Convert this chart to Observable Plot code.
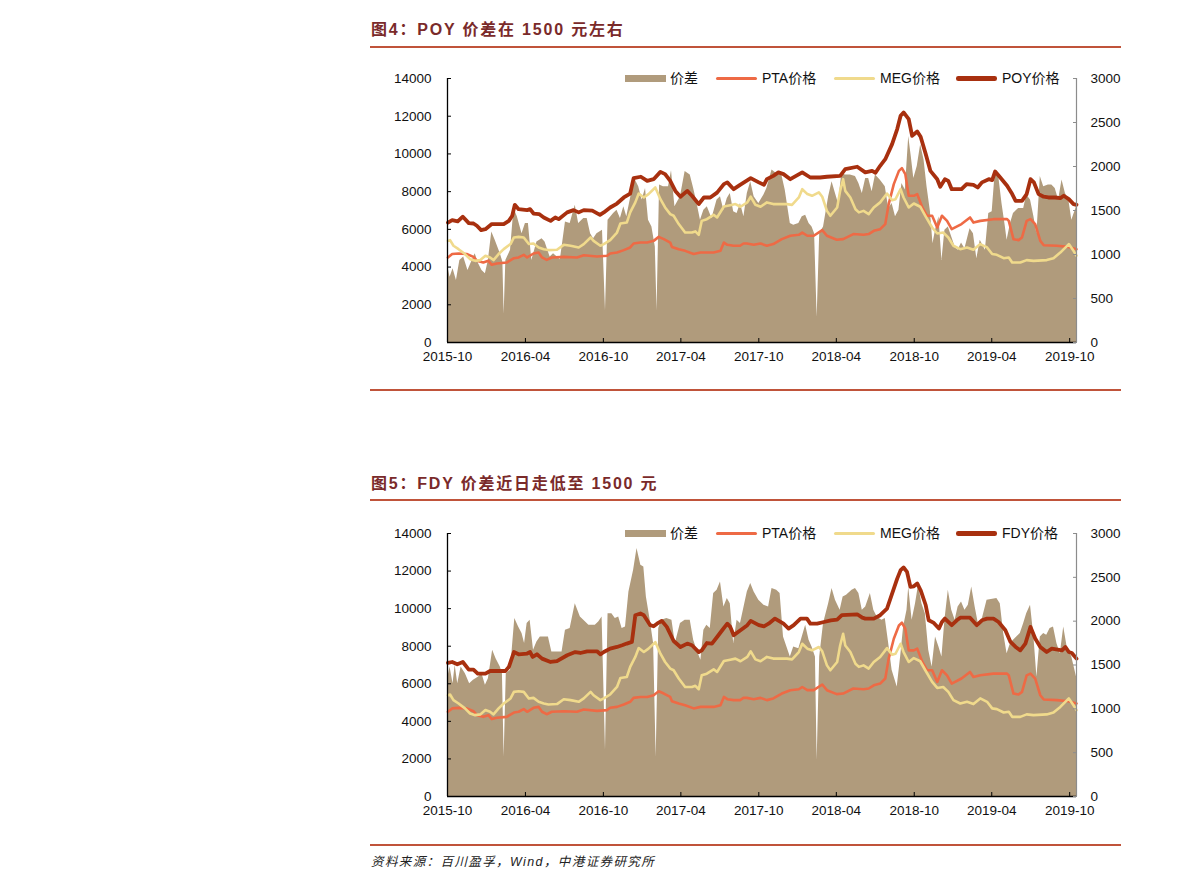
<!DOCTYPE html>
<html><head><meta charset="utf-8">
<script src="https://cdn.jsdelivr.net/npm/d3@7"></script>
<script src="https://cdn.jsdelivr.net/npm/@observablehq/plot@0.6"></script>
<style>
body{margin:0;background:#fff;width:1191px;height:891px;position:relative;overflow:hidden;font-family:"Liberation Sans","Noto Sans CJK SC",sans-serif;}
.title{position:absolute;left:371px;height:20px;line-height:20px;font-weight:bold;font-size:16px;color:#7a2a2a;letter-spacing:1.8px;white-space:nowrap;font-family:"Liberation Sans","Noto Sans CJK SC",sans-serif;}
.rule{position:absolute;left:370px;width:751px;background:#c0533a;}
.chart{position:absolute;left:0;}
.lg{position:absolute;font-size:14px;line-height:16px;height:16px;white-space:nowrap;color:#111;}
.sw{position:absolute;}
.src{position:absolute;left:371px;top:853px;font-size:12.5px;line-height:18px;font-style:italic;color:#222;letter-spacing:1.4px;}
</style></head>
<body>
<div class="title" style="top:20px">图4：POY 价差在 1500 元左右</div>
<div class="rule" style="top:46px;height:2px"></div>
<div id="c1" class="chart" style="top:50px"></div>
<div class="rule" style="top:389px;height:1.5px"></div>
<div class="title" style="top:474px">图5：FDY 价差近日走低至 1500 元</div>
<div class="rule" style="top:499px;height:2px"></div>
<div id="c2" class="chart" style="top:505px"></div>
<div class="rule" style="top:844px;height:1.5px"></div>
<div class="src">资料来源：百川盈孚，Wind，中港证券研究所</div>
<script>
// ---------- data ----------
const xStart = "2015-10-01", xEnd = "2019-10-17";
const xTicks = ["2015-10","2016-04","2016-10","2017-04","2017-10","2018-04","2018-10","2019-04","2019-10"];
const leftTicks = [0,2000,4000,6000,8000,10000,12000,14000];
const rightTicks = [0,500,1000,1500,2000,2500,3000];
const legend1 = ["价差","PTA价格","MEG价格","POY价格"];
const legend2 = ["价差","PTA价格","MEG价格","FDY价格"];

const pta = [["2015-10-02",4510],["2015-10-12",4690],["2015-10-27",4720],["2015-11-15",4690],["2015-12-01",4540],["2015-12-09",4330],["2015-12-24",4240],["2016-01-05",4330],["2016-01-13",4120],["2016-01-25",4190],["2016-02-17",4240],["2016-03-05",4470],["2016-03-16",4510],["2016-03-28",4650],["2016-04-05",4510],["2016-04-20",4720],["2016-05-02",4770],["2016-05-10",4510],["2016-05-21",4380],["2016-06-02",4510],["2016-06-30",4540],["2016-07-31",4510],["2016-08-16",4630],["2016-09-16",4560],["2016-10-10",4600],["2016-10-17",4720],["2016-11-02",4770],["2016-11-18",4900],["2016-12-03",5040],["2016-12-11",5250],["2016-12-27",5300],["2017-01-12",5300],["2017-01-27",5390],["2017-02-08",5600],["2017-02-20",5480],["2017-03-07",5300],["2017-03-11",5070],["2017-03-27",4950],["2017-04-11",4860],["2017-05-01",4690],["2017-05-17",4770],["2017-06-17",4770],["2017-07-03",4860],["2017-07-11",5300],["2017-07-19",5180],["2017-08-03",5130],["2017-08-18",5130],["2017-08-26",5250],["2017-09-03",5250],["2017-09-19",5180],["2017-10-05",5250],["2017-10-20",5130],["2017-11-04",5220],["2017-11-24",5480],["2017-12-14",5660],["2018-01-03",5710],["2018-01-11",5830],["2018-01-23",5660],["2018-02-07",5660],["2018-02-27",5960],["2018-03-10",5660],["2018-04-02",5450],["2018-04-17",5480],["2018-05-11",5750],["2018-06-04",5710],["2018-06-16",5750],["2018-06-28",5920],["2018-07-13",6010],["2018-07-25",6280],["2018-08-02",7340],["2018-08-14",8400],["2018-08-26",9100],["2018-09-02",9250],["2018-09-10",8930],["2018-09-18",7780],["2018-09-30",7780],["2018-10-08",7870],["2018-10-20",7160],["2018-10-31",6720],["2018-11-12",6720],["2018-11-24",6100],["2018-12-05",6720],["2018-12-17",6450],["2018-12-28",6010],["2019-01-20",6280],["2019-02-09",6630],["2019-02-17",6360],["2019-03-05",6450],["2019-04-05",6540],["2019-05-07",6540],["2019-05-11",6450],["2019-05-22",5480],["2019-06-03",5430],["2019-06-11",5570],["2019-06-22",6450],["2019-07-01",6540],["2019-07-12",6280],["2019-07-24",5390],["2019-08-01",5160],["2019-09-01",5130],["2019-09-28",5070],["2019-10-17",4950]];

const meg = [["2015-10-02",5390],["2015-10-07",5430],["2015-10-15",5130],["2015-10-27",4950],["2015-11-11",4690],["2015-11-23",4420],["2015-12-05",4330],["2015-12-17",4370],["2015-12-29",4600],["2016-01-09",4510],["2016-01-17",4370],["2016-01-29",4690],["2016-02-10",4950],["2016-02-26",5220],["2016-03-05",5570],["2016-03-16",5600],["2016-03-28",5570],["2016-04-09",5220],["2016-04-20",5250],["2016-05-02",5040],["2016-05-14",4950],["2016-05-25",4900],["2016-06-14",4920],["2016-06-30",5180],["2016-07-16",5130],["2016-08-04",5040],["2016-08-16",5220],["2016-09-01",5570],["2016-09-08",5390],["2016-09-24",5130],["2016-10-02",5220],["2016-10-17",5430],["2016-11-02",5830],["2016-11-10",6310],["2016-11-25",6360],["2016-12-03",6900],["2016-12-15",7430],["2016-12-23",7900],["2017-01-04",7690],["2017-01-15",7870],["2017-01-31",8220],["2017-02-12",7600],["2017-02-23",7160],["2017-03-07",6810],["2017-03-15",6720],["2017-03-27",6280],["2017-04-11",5830],["2017-04-27",5830],["2017-05-05",5890],["2017-05-13",5710],["2017-05-20",6450],["2017-06-01",6540],["2017-06-17",6770],["2017-06-25",6630],["2017-07-11",7210],["2017-07-26",7280],["2017-08-07",7340],["2017-08-19",7200],["2017-09-04",7430],["2017-09-12",7730],["2017-09-23",7300],["2017-10-05",7200],["2017-10-20",7430],["2017-11-04",7340],["2017-12-06",7340],["2017-12-18",7300],["2018-01-03",7690],["2018-01-11",8130],["2018-01-23",7870],["2018-02-03",7780],["2018-02-19",7960],["2018-02-27",7730],["2018-03-10",6980],["2018-03-18",6720],["2018-04-03",7160],["2018-04-10",8040],["2018-04-17",8660],["2018-04-22",8040],["2018-05-04",7690],["2018-05-16",7070],["2018-05-24",6900],["2018-06-04",6980],["2018-06-16",6810],["2018-06-28",7160],["2018-07-13",7430],["2018-07-29",7900],["2018-08-10",7550],["2018-08-18",7600],["2018-08-30",8130],["2018-09-06",7690],["2018-09-18",7160],["2018-09-30",7370],["2018-10-15",7200],["2018-10-27",6720],["2018-11-12",6100],["2018-11-24",5780],["2018-12-08",5830],["2018-12-20",5570],["2019-01-01",5130],["2019-01-17",4950],["2019-02-02",5040],["2019-02-17",4920],["2019-03-05",5220],["2019-03-21",5040],["2019-04-02",4690],["2019-04-13",4650],["2019-04-29",4470],["2019-05-11",4510],["2019-05-19",4240],["2019-06-07",4240],["2019-06-22",4370],["2019-07-08",4330],["2019-08-08",4370],["2019-08-24",4470],["2019-09-09",4770],["2019-09-29",5220],["2019-10-10",4860],["2019-10-17",4600]];

const poy = [["2015-10-02",6360],["2015-10-12",6490],["2015-10-25",6420],["2015-11-06",6670],["2015-11-20",6330],["2015-12-01",6310],["2015-12-09",6190],["2015-12-19",5960],["2015-12-29",6010],["2016-01-13",6280],["2016-02-10",6280],["2016-02-22",6450],["2016-03-01",6720],["2016-03-07",7300],["2016-03-16",7070],["2016-04-05",7020],["2016-04-12",7070],["2016-04-20",6840],["2016-05-03",6810],["2016-05-14",6630],["2016-05-30",6450],["2016-06-10",6630],["2016-06-18",6540],["2016-07-08",6900],["2016-07-23",7020],["2016-08-04",6900],["2016-08-16",7020],["2016-09-05",6990],["2016-09-23",6770],["2016-10-02",6900],["2016-10-17",7160],["2016-11-02",7370],["2016-11-18",7690],["2016-12-03",7900],["2016-12-11",8720],["2016-12-28",8790],["2017-01-12",8570],["2017-01-27",8660],["2017-02-12",9050],["2017-02-23",8930],["2017-03-07",8570],["2017-03-19",8040],["2017-03-31",7730],["2017-04-16",8040],["2017-04-27",7780],["2017-05-13",7340],["2017-05-25",7690],["2017-06-09",7690],["2017-06-25",7950],["2017-07-11",8400],["2017-07-19",8490],["2017-08-03",8130],["2017-08-18",8360],["2017-09-12",8720],["2017-10-01",8490],["2017-10-13",8360],["2017-10-20",8660],["2017-11-04",8840],["2017-11-16",9020],["2017-11-28",8930],["2017-12-14",8660],["2018-01-11",9020],["2018-01-30",8750],["2018-02-22",8750],["2018-03-10",8790],["2018-04-10",8840],["2018-04-22",9190],["2018-05-20",9320],["2018-06-08",9020],["2018-06-24",9100],["2018-07-02",9000],["2018-07-13",9370],["2018-07-25",9720],["2018-08-10",10520],["2018-08-22",11320],["2018-08-30",12020],["2018-09-06",12200],["2018-09-18",11850],["2018-09-26",10960],["2018-10-08",11190],["2018-10-16",10910],["2018-10-28",9990],["2018-11-08",9100],["2018-11-24",8660],["2018-12-01",8260],["2018-12-12",8660],["2018-12-20",8570],["2018-12-28",8130],["2019-01-09",8130],["2019-01-20",8130],["2019-02-01",8400],["2019-02-17",8360],["2019-02-27",8220],["2019-03-09",8490],["2019-03-25",8660],["2019-04-02",8610],["2019-04-09",9070],["2019-04-21",8750],["2019-05-07",8310],["2019-05-19",7870],["2019-05-27",7510],["2019-06-11",7510],["2019-06-22",7870],["2019-07-01",8660],["2019-07-09",8490],["2019-07-20",7870],["2019-08-01",7730],["2019-08-12",7690],["2019-08-28",7690],["2019-09-09",7660],["2019-09-17",7780],["2019-09-29",7600],["2019-10-10",7340],["2019-10-17",7300]];

const fdy = [["2015-10-02",7110],["2015-10-12",7160],["2015-10-24",7040],["2015-11-06",7160],["2015-11-20",6750],["2015-12-01",6750],["2015-12-11",6540],["2015-12-29",6540],["2016-01-09",6680],["2016-02-14",6680],["2016-02-22",6890],["2016-03-05",7690],["2016-03-16",7570],["2016-04-05",7610],["2016-04-12",7690],["2016-04-18",7430],["2016-04-28",7570],["2016-05-10",7340],["2016-05-30",7160],["2016-06-14",7210],["2016-07-08",7520],["2016-07-27",7690],["2016-08-08",7640],["2016-08-24",7730],["2016-09-16",7730],["2016-09-24",7570],["2016-10-02",7690],["2016-10-17",7870],["2016-11-02",7960],["2016-11-14",8050],["2016-11-25",8140],["2016-12-07",8230],["2016-12-15",9650],["2016-12-27",9740],["2017-01-04",9650],["2017-01-19",9120],["2017-01-27",9060],["2017-02-04",9200],["2017-02-15",9350],["2017-02-27",9030],["2017-03-15",8280],["2017-03-31",7960],["2017-04-16",8140],["2017-04-27",8050],["2017-05-13",7690],["2017-05-20",7780],["2017-06-01",8170],["2017-06-13",8140],["2017-06-25",8490],["2017-07-07",8850],["2017-07-19",9200],["2017-07-26",9030],["2017-08-03",8580],["2017-08-19",8850],["2017-09-04",9120],["2017-09-12",9350],["2017-10-01",9120],["2017-10-13",9060],["2017-10-24",9200],["2017-11-08",9470],["2017-11-28",9200],["2017-12-10",8940],["2017-12-22",9120],["2018-01-07",9470],["2018-01-22",9470],["2018-01-30",9200],["2018-02-15",9200],["2018-03-03",9290],["2018-03-19",9380],["2018-04-03",9420],["2018-04-14",9650],["2018-05-20",9700],["2018-06-01",9520],["2018-06-08",9470],["2018-06-28",9470],["2018-07-13",9650],["2018-07-29",10000],["2018-08-10",10800],["2018-08-22",11600],["2018-08-30",12050],["2018-09-06",12190],["2018-09-14",11960],["2018-09-22",11160],["2018-09-30",11190],["2018-10-08",11340],["2018-10-16",10980],["2018-10-28",10180],["2018-11-04",9380],["2018-11-16",9240],["2018-11-28",8940],["2018-12-05",9290],["2018-12-12",9470],["2018-12-28",9120],["2019-01-09",9380],["2019-01-17",9520],["2019-02-09",9520],["2019-02-25",9120],["2019-03-09",9380],["2019-03-21",9470],["2019-04-05",9470],["2019-04-17",9290],["2019-05-03",8850],["2019-05-15",8230],["2019-05-27",7960],["2019-06-07",7780],["2019-06-19",8140],["2019-07-01",9030],["2019-07-12",8410],["2019-07-24",7960],["2019-08-08",7690],["2019-08-20",7870],["2019-09-13",7780],["2019-09-21",7960],["2019-09-29",7690],["2019-10-06",7640],["2019-10-17",7340]];

const spreadPOY = [["2015-10-02",857],["2015-10-07",742],["2015-10-14",838],["2015-10-22",704],["2015-10-30",933],["2015-11-08",971],["2015-11-18",818],["2015-11-28",933],["2015-12-05",1009],["2015-12-13",895],["2015-12-21",818],["2015-12-29",780],["2016-01-05",933],["2016-01-13",1256],["2016-01-21",1161],["2016-02-02",1009],["2016-02-08",914],["2016-02-11",324],["2016-02-15",933],["2016-02-26",1047],["2016-03-05",1523],["2016-03-13",1428],["2016-03-24",1237],["2016-04-01",1351],["2016-04-08",1351],["2016-04-16",933],["2016-04-28",1142],["2016-05-10",1180],["2016-05-17",1142],["2016-05-29",971],["2016-06-06",1009],["2016-06-22",940],["2016-07-04",1370],["2016-07-15",1351],["2016-07-27",1561],["2016-08-04",1351],["2016-08-16",1408],["2016-08-24",1408],["2016-09-01",1237],["2016-09-08",1180],["2016-09-16",1237],["2016-09-29",1275],["2016-10-06",362],["2016-10-12",1390],["2016-10-25",1466],["2016-11-02",1504],["2016-11-10",1408],["2016-11-18",1542],["2016-11-25",1428],["2016-12-07",1713],["2016-12-15",1846],["2016-12-23",1770],["2016-12-31",1618],["2017-01-08",1751],["2017-01-15",1390],["2017-01-23",1313],["2017-01-31",1085],["2017-02-04",362],["2017-02-10",1789],["2017-02-19",1770],["2017-03-03",1770],["2017-03-10",1953],["2017-03-18",1542],["2017-03-31",1656],["2017-04-11",1942],["2017-04-23",1903],["2017-05-01",1751],["2017-05-09",1580],["2017-05-17",1390],["2017-05-25",1504],["2017-06-02",1542],["2017-06-13",1408],["2017-06-25",1618],["2017-07-03",1656],["2017-07-11",1504],["2017-07-19",1637],["2017-07-26",1694],["2017-08-03",1485],["2017-08-11",1466],["2017-08-19",1580],["2017-08-27",1428],["2017-09-04",1694],["2017-09-12",1827],["2017-09-20",1656],["2017-10-01",1580],["2017-10-13",1675],["2017-10-20",1751],["2017-11-01",1960],["2017-11-16",1903],["2017-11-24",1903],["2017-12-02",1732],["2017-12-14",1351],["2017-12-22",1332],["2018-01-03",1351],["2018-01-11",1428],["2018-01-19",1447],["2018-01-27",1351],["2018-02-03",1313],["2018-02-09",1237],["2018-02-15",286],["2018-02-21",1237],["2018-03-02",1313],["2018-03-14",1656],["2018-03-22",1827],["2018-03-30",1694],["2018-04-06",1580],["2018-04-14",1922],["2018-04-22",1903],["2018-05-04",1903],["2018-05-16",1885],["2018-05-24",1808],["2018-06-01",1694],["2018-06-09",1865],["2018-06-16",1865],["2018-06-24",1713],["2018-07-02",1903],["2018-07-13",1846],["2018-07-25",1770],["2018-08-02",1523],["2018-08-10",1580],["2018-08-18",1428],["2018-08-26",1504],["2018-09-02",1808],["2018-09-10",1732],["2018-09-18",2341],["2018-09-24",2113],["2018-09-30",1865],["2018-10-08",1999],["2018-10-16",2246],["2018-10-24",2075],["2018-10-31",1770],["2018-11-08",1485],["2018-11-14",1123],["2018-11-20",1275],["2018-11-28",1428],["2018-12-05",933],["2018-12-12",1275],["2018-12-20",1313],["2018-12-28",1199],["2019-01-05",1085],["2019-01-12",1047],["2019-01-20",1131],["2019-01-28",1066],["2019-02-09",1294],["2019-02-17",1237],["2019-02-25",952],["2019-03-05",1161],["2019-03-17",1047],["2019-03-25",1466],["2019-04-02",1485],["2019-04-09",1922],["2019-04-17",1903],["2019-04-25",1580],["2019-05-03",1313],["2019-05-07",1161],["2019-05-15",1351],["2019-05-22",1466],["2019-06-03",1523],["2019-06-15",1523],["2019-06-22",1675],["2019-07-01",1618],["2019-07-09",1428],["2019-07-16",1237],["2019-07-24",1885],["2019-08-01",1770],["2019-08-12",1789],["2019-08-20",1789],["2019-08-28",1751],["2019-09-05",1618],["2019-09-13",1846],["2019-09-21",1694],["2019-09-29",1618],["2019-10-06",1390],["2019-10-17",1542]];

const spreadFDY = [["2015-10-02",1363],["2015-10-07",1477],["2015-10-14",1287],["2015-10-19",1496],["2015-10-25",1287],["2015-11-02",1477],["2015-11-12",1401],["2015-11-22",1287],["2015-12-01",1325],["2015-12-13",1363],["2015-12-21",1401],["2015-12-29",1268],["2016-01-05",1344],["2016-01-15",1667],["2016-01-23",1572],["2016-02-02",1477],["2016-02-07",1401],["2016-02-11",449],["2016-02-16",1401],["2016-02-26",1439],["2016-03-07",2029],["2016-03-16",1934],["2016-03-24",1858],["2016-03-30",1744],["2016-04-05",1972],["2016-04-12",2010],["2016-04-20",1667],["2016-04-28",1763],["2016-05-06",1820],["2016-05-25",1820],["2016-06-02",1648],["2016-06-26",1648],["2016-07-04",1896],["2016-07-15",1915],["2016-07-27",2200],["2016-08-08",2048],["2016-08-16",2010],["2016-08-28",1953],["2016-09-12",1953],["2016-09-20",1991],["2016-09-28",2048],["2016-10-06",525],["2016-10-12",2086],["2016-10-21",2086],["2016-10-29",2029],["2016-11-06",2048],["2016-11-14",1915],["2016-11-22",1934],["2016-11-30",2334],["2016-12-11",2581],["2016-12-19",2829],["2016-12-28",2638],["2017-01-04",2619],["2017-01-10",2277],["2017-01-19",2010],["2017-01-27",1744],["2017-02-02",449],["2017-02-08",1915],["2017-02-15",2010],["2017-02-27",2029],["2017-03-11",2010],["2017-03-19",1744],["2017-03-31",1972],["2017-04-11",2010],["2017-04-23",2010],["2017-05-01",1782],["2017-05-09",1667],["2017-05-18",1553],["2017-05-25",1896],["2017-06-01",1953],["2017-06-09",1915],["2017-06-17",2315],["2017-06-25",2353],["2017-07-03",2448],["2017-07-11",2162],["2017-07-19",2258],["2017-07-26",2200],["2017-08-03",1744],["2017-08-11",2010],["2017-08-19",1972],["2017-09-04",2334],["2017-09-12",2429],["2017-09-20",2334],["2017-10-01",2239],["2017-10-13",2181],["2017-10-24",2162],["2017-11-01",2372],["2017-11-12",2353],["2017-11-20",2315],["2017-11-28",1820],["2017-12-06",1706],["2017-12-14",1591],["2017-12-22",1706],["2018-01-03",1686],["2018-01-11",1820],["2018-01-19",1953],["2018-01-27",1782],["2018-02-03",1706],["2018-02-11",1591],["2018-02-15",411],["2018-02-21",1591],["2018-03-02",1972],["2018-03-14",2200],["2018-03-22",2372],["2018-03-30",2239],["2018-04-10",2124],["2018-04-17",2277],["2018-04-25",2296],["2018-05-08",2353],["2018-05-16",2372],["2018-05-24",2315],["2018-06-01",2124],["2018-06-09",2162],["2018-06-20",2315],["2018-06-28",2124],["2018-07-06",2048],["2018-07-17",2010],["2018-07-25",2029],["2018-08-02",1744],["2018-08-10",1439],["2018-08-22",1249],["2018-08-30",1591],["2018-09-06",1934],["2018-09-14",2124],["2018-09-18",2391],["2018-09-26",2010],["2018-10-04",2200],["2018-10-11",2410],["2018-10-19",2200],["2018-10-27",2086],["2018-11-04",1667],["2018-11-12",1477],["2018-11-20",1820],["2018-11-28",1706],["2018-12-05",1591],["2018-12-12",2010],["2018-12-20",2353],["2018-12-28",2124],["2019-01-05",2010],["2019-01-12",2162],["2019-01-20",2220],["2019-01-28",2124],["2019-02-05",2181],["2019-02-13",2391],["2019-02-21",2162],["2019-03-02",1934],["2019-03-09",2010],["2019-03-21",2239],["2019-04-13",2258],["2019-04-21",2200],["2019-04-29",1858],["2019-05-07",1629],["2019-05-15",1744],["2019-05-22",1782],["2019-06-07",1858],["2019-06-15",1972],["2019-06-22",2086],["2019-07-01",2181],["2019-07-09",1820],["2019-07-16",1363],["2019-07-24",1820],["2019-08-01",1858],["2019-08-08",1839],["2019-08-16",1915],["2019-08-24",1934],["2019-09-01",1744],["2019-09-09",1629],["2019-09-17",1934],["2019-09-25",1706],["2019-10-06",1591],["2019-10-17",1363]];

// ---------- styling ----------
const C = {area:"#b09b7c", pta:"#ee6a45", meg:"#f0da8c", yarn:"#a8300f"};
const k = 14000 / 3000;   // right-axis value -> left-axis units
const parse = d3.utcParse("%Y-%m-%d");
const fmtMonth = d3.utcFormat("%Y-%m");

function draw(el, spread, yarn, top, marginBottom, legendLabels) {
  const xs = d => parse(d[0]);
  const chart = Plot.plot({
    width: 1191, height: 320,
    marginLeft: 447, marginRight: 115, marginTop: top, marginBottom: marginBottom,
    style: {fontFamily: "Liberation Sans, Arial, sans-serif", fontSize: "13.5px", color: "#111", background: "transparent"},
    x: {type: "utc", domain: [parse(xStart), parse(xEnd)]},
    y: {domain: [0, 14000]},
    marks: [
      Plot.areaY(spread, {x: xs, y: d => d[1] * k, fill: C.area, curve: "linear"}),
      Plot.lineY(pta, {x: xs, y: d => d[1], stroke: C.pta, strokeWidth: 2.6, curve: "linear"}),
      Plot.lineY(meg, {x: xs, y: d => d[1], stroke: C.meg, strokeWidth: 2.6, curve: "linear"}),
      Plot.lineY(yarn, {x: xs, y: d => d[1], stroke: C.yarn, strokeWidth: 3.8, curve: "linear"}),
      Plot.ruleX([parse(xEnd)], {stroke: "#8c8c8c", strokeWidth: 1.2}),
      Plot.ruleX([parse(xStart)], {stroke: "#000", strokeWidth: 1.3}),
      Plot.ruleY([0], {stroke: "#000", strokeWidth: 1.3}),
      Plot.axisY(leftTicks, {anchor: "left", tickSize: -4, tickPadding: 20, stroke: "#000", fill: "#111", tickFormat: d => String(d)}),
      Plot.axisY(rightTicks.map(v => v * k), {anchor: "right", tickSize: -4, tickPadding: 18, stroke: "#8c8c8c", fill: "#111", tickFormat: d => String(Math.round(d / k))}),
      Plot.axisX(xTicks.map(t => parse(t + "-01")), {anchor: "bottom", tickSize: -4, tickPadding: 13, stroke: "#000", fill: "#111", tickFormat: fmtMonth})
    ]
  });
  el.appendChild(chart);

  // legend (HTML, placed over the chart's top strip)
  const lgLeft = [[625, 670], [716, 762], [834, 880], [956, 1002]];
  const kinds = [["rect", C.area, 7], ["line", C.pta, 3], ["line", C.meg, 3], ["line", C.yarn, 4.5]];
  legendLabels.forEach((lab, i) => {
    const [sx, tx] = lgLeft[i];
    const [kind, col, h] = kinds[i];
    const sw = document.createElement("div");
    sw.className = "sw";
    sw.style.left = sx + "px";
    sw.style.width = "41px";
    sw.style.height = h + "px";
    sw.style.top = (top - h / 2 + 0.5) + "px";
    sw.style.background = col;
    if (kind === "line") sw.style.borderRadius = (h / 2) + "px";
    el.appendChild(sw);
    const t = document.createElement("div");
    t.className = "lg";
    t.style.left = tx + "px";
    t.style.top = (top - 8) + "px";
    t.textContent = lab;
    el.appendChild(t);
  });
}
draw(document.getElementById("c1"), spreadPOY, poy, 28, 28, legend1);
draw(document.getElementById("c2"), spreadFDY, fdy, 28, 29, legend2);
</script>
</body></html>
